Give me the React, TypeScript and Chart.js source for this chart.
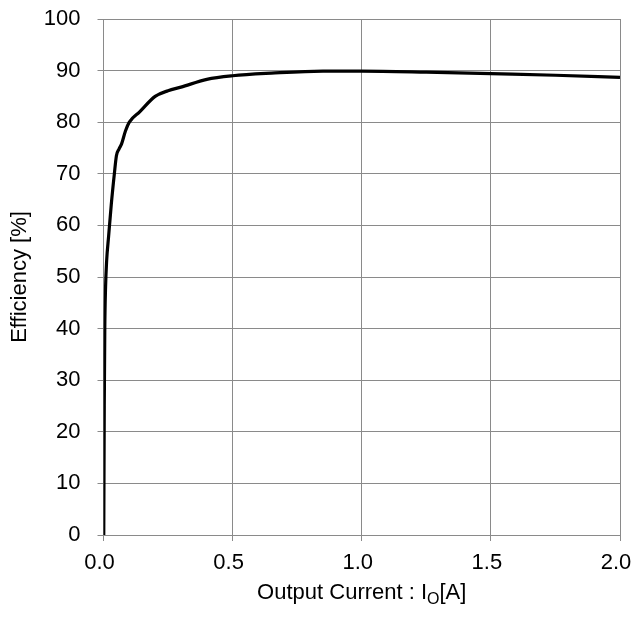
import React, { useEffect, useRef } from "react";
import { Chart, registerables } from "chart.js";

Chart.register(...registerables);

const currentA: number[] = [0.001, 0.003, 0.005, 0.008, 0.012, 0.02, 0.03, 0.042, 0.05, 0.06, 0.07, 0.085, 0.1, 0.14, 0.2, 0.25, 0.3, 0.4, 0.5, 0.65, 0.85, 1.0, 1.25, 1.5, 1.75, 2.0];
const efficiency: number[] = [0, 25, 40, 48, 53, 58, 64, 70, 73.5, 74.8, 75.8, 78.3, 80, 82, 85, 86.1, 86.8, 88.3, 89.0, 89.5, 89.9, 89.9, 89.7, 89.4, 89.1, 88.7];

const xTicks: number[] = [0, 0.5, 1.0, 1.5, 2.0];
const yTicks: number[] = [0, 10, 20, 30, 40, 50, 60, 70, 80, 90, 100];

const xTitleMain = "Output Current : I";
const xTitleSub = "O";
const xTitleEnd = "[A]";
const yTitle = "Efficiency [%]";

const FONT = "'Liberation Sans', Arial, sans-serif";
const GRID = "#8a8a8a";

const titlePlugin = {
  id: "customTitles",
  afterDraw(chart: any) {
    const ctx = chart.ctx as CanvasRenderingContext2D;
    const area = chart.chartArea;
    ctx.save();
    ctx.fillStyle = "#000";
    const mainFont = `22px ${FONT}`;
    const subFont = `16px ${FONT}`;
    ctx.font = mainFont;
    const w1 = ctx.measureText(xTitleMain).width;
    const w3 = ctx.measureText(xTitleEnd).width;
    ctx.font = subFont;
    const w2 = ctx.measureText(xTitleSub).width;
    const total = w1 + w2 + w3;
    const cx = (area.left + area.right) / 2;
    let x = cx - total / 2;
    const baseY = 599;
    ctx.textBaseline = "alphabetic";
    ctx.textAlign = "left";
    ctx.font = mainFont;
    ctx.fillText(xTitleMain, x, baseY);
    x += w1;
    ctx.font = subFont;
    ctx.fillText(xTitleSub, x, baseY + 5);
    x += w2;
    ctx.font = mainFont;
    ctx.fillText(xTitleEnd, x, baseY);
    ctx.translate(20, (area.top + area.bottom) / 2);
    ctx.rotate(-Math.PI / 2);
    ctx.textAlign = "center";
    ctx.textBaseline = "middle";
    ctx.font = mainFont;
    ctx.fillText(yTitle, 0, 0);
    ctx.restore();
  },
};

export default function App() {
  const ref = useRef<HTMLCanvasElement | null>(null);
  useEffect(() => {
    if (!ref.current) return;
    const points = currentA.map((c, i) => ({ x: c, y: efficiency[i] }));
    const chart = new Chart(ref.current, {
      type: "line",
      data: {
        datasets: [
          {
            data: points,
            borderColor: "#000",
            borderWidth: 3.2,
            pointRadius: 0,
            cubicInterpolationMode: "monotone",
            fill: false,
          },
        ],
      },
      options: {
        animation: false,
        responsive: false,
        devicePixelRatio: 1,
        layout: { padding: { top: 19, right: 12, left: 0, bottom: 0 } },
        plugins: { legend: { display: false }, tooltip: { enabled: false } },
        scales: {
          x: {
            type: "linear",
            min: 0,
            max: 2,
            afterBuildTicks: (scale: any) => {
              scale.ticks = xTicks.map((v) => ({ value: v }));
            },
            afterFit: (scale: any) => {
              scale.height = 82;
              scale.paddingLeft = 0;
              scale.paddingRight = 0;
              scale.paddingTop = 0;
              scale.paddingBottom = 0;
            },
            ticks: {
              color: "#000",
              font: { family: FONT, size: 22 },
              padding: 9,
              labelOffset: -4,
              callback: (v: any) => Number(v).toFixed(1),
              maxRotation: 0,
            },
            grid: { color: GRID, lineWidth: 1, tickLength: 6 },
            border: { color: GRID, width: 1 },
          },
          y: {
            type: "linear",
            min: 0,
            max: 100,
            afterBuildTicks: (scale: any) => {
              scale.ticks = yTicks.map((v) => ({ value: v }));
            },
            afterFit: (scale: any) => {
              scale.width = 103.5;
              scale.paddingLeft = 0;
              scale.paddingRight = 0;
              scale.paddingTop = 0;
              scale.paddingBottom = 0;
            },
            ticks: {
              color: "#000",
              font: { family: FONT, size: 22 },
              padding: 17,
            },
            grid: { color: GRID, lineWidth: 1, tickLength: 6 },
            border: { color: GRID, width: 1 },
          },
        },
      },
      plugins: [titlePlugin],
    } as any);
    return () => chart.destroy();
  }, []);
  return (
    <div style={{ position: "absolute", left: 0, top: 0, width: 632, height: 617, background: "#fff" }}>
      <canvas ref={ref} width={632} height={617} style={{ display: "block" }} />
    </div>
  );
}
